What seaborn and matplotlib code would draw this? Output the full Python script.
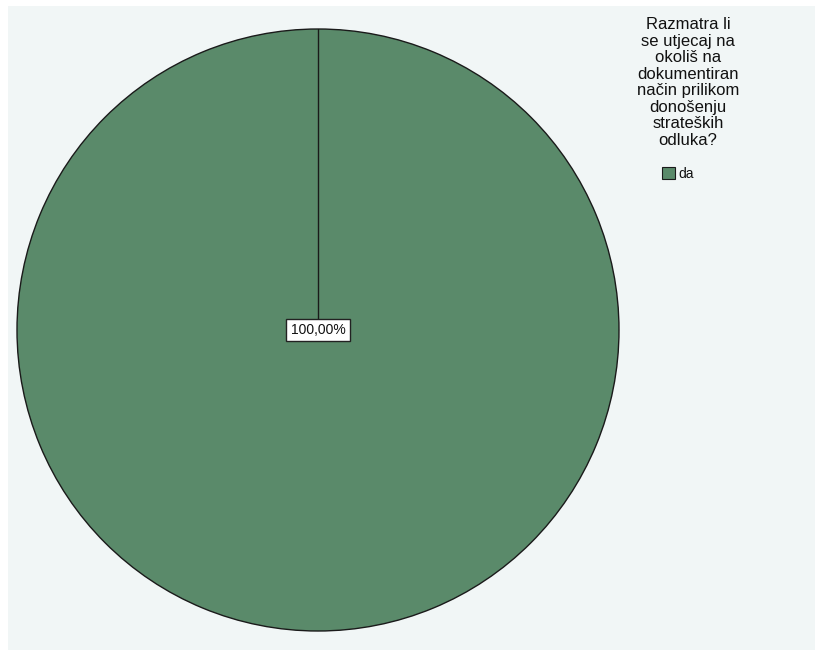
import matplotlib
matplotlib.use("Agg")
import matplotlib.pyplot as plt
import seaborn as sns
from matplotlib.patches import Rectangle

sns.set_style("white")
plt.rcParams['font.family'] = ['Liberation Sans', 'DejaVu Sans']

categories = ["da"]
values = [100.0]
labels = ["100,00%"]
legend_title = "Razmatra li\nse utjecaj na\nokoliš na\ndokumentiran\nnačin prilikom\ndonošenju\nstrateških\nodluka?"

W, H = 815, 652
fig = plt.figure(figsize=(W / 100, H / 100), dpi=100)
fig.patch.set_facecolor("white")
fig.add_artist(Rectangle((8 / W, 2 / H), 1 - 8 / W, (646 - 2) / H,
                         transform=fig.transFigure, facecolor="#f1f6f6",
                         edgecolor="none", linewidth=0, zorder=0))

cx, cy, r = 318, 330, 301
ax = fig.add_axes([(cx - r) / W, (H - cy - r) / H, 2 * r / W, 2 * r / H])
ax.set_facecolor("none")
colors = ["#5a8a6a"]
wedges, _ = ax.pie(values, colors=colors, startangle=90, counterclock=False,
                   radius=1.0,
                   wedgeprops=dict(edgecolor="#1a1a1a", linewidth=1.0))
ax.plot([0, 0], [0, 1], color="#1a1a1a", linewidth=1.0, zorder=3)
ax.text(0, -0.0, labels[0], ha="center", va="center", fontsize=10, zorder=4,
        color="#111111",
        bbox=dict(boxstyle="square,pad=0.3", facecolor="white",
                  edgecolor="#222222", linewidth=1.0))
ax.set_xlim(-1.0, 1.0)
ax.set_ylim(-1.0, 1.0)
ax.set_aspect("equal")
ax.axis("off")

fig.text(688 / W, 1 - 17 / H, legend_title, ha="center", va="top",
         multialignment="center", fontsize=12, linespacing=1.13,
         color="#111111")

leg = fig.legend(wedges, categories,
                 loc="center", bbox_to_anchor=(678 / W, 1 - 174 / H),
                 frameon=False, fontsize=10,
                 handlelength=0.9, handleheight=0.9, handletextpad=0.25,
                 borderaxespad=0, borderpad=0, labelcolor="#111111")
for h in leg.legend_handles:
    h.set_edgecolor("#1a1a1a")
    h.set_linewidth(0.8)

fig.savefig("out.png", dpi=100, facecolor="white")
